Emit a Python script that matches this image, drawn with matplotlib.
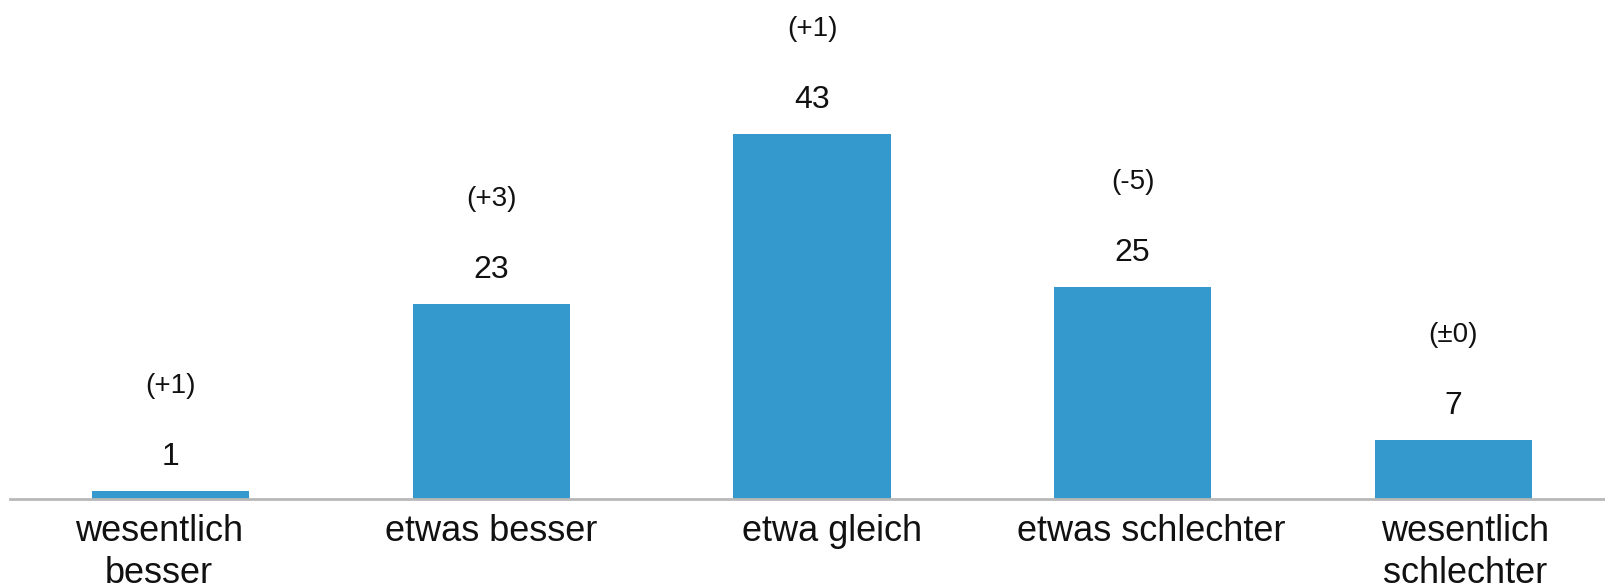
import matplotlib.pyplot as plt
import numpy as np

# chart data
categories = ["wesentlich\nbesser", "etwas besser", "etwa gleich",
              "etwas schlechter", "wesentlich\nschlechter"]
values = [1, 23, 43, 25, 7]
changes = ["(+1)", "(+3)", "(+1)", "(-5)", "(\u00b10)"]

bar_color = "#3499cc"
axis_color = "#b8b8b8"
# the category labels in the original sit slightly off the bar centres
label_shift = np.array([-0.037, 0.0, 0.062, 0.059, 0.037])

plt.rcParams["font.family"] = ["Liberation Sans", "DejaVu Sans"]

fig = plt.figure(figsize=(16.06, 5.88), dpi=100)
ax = fig.add_axes([10 / 1606, 89 / 588, 1 - 10 / 1606, 467.5 / 588])

x = np.arange(len(categories))
bars = ax.bar(x, values, width=0.49, color=bar_color, zorder=2)

# value and change labels above each bar
for bar, val, chg in zip(bars, values, changes):
    cx = bar.get_x() + bar.get_width() / 2
    top = bar.get_height()
    ax.annotate(str(val), (cx, top), xytext=(0, 24), textcoords="offset points",
                ha="center", va="center", fontsize=23, color="#111111")
    ax.annotate(chg, (cx, top), xytext=(0, 75), textcoords="offset points",
                ha="center", va="center", fontsize=20, color="#111111")

ax.set_xlim(-0.502, 4.477)
ax.set_ylim(0, 55)

ax.set_xticks(x + label_shift)
ax.set_xticklabels(categories, fontsize=26, linespacing=1.25, color="#111111")
ax.tick_params(axis="x", length=0, pad=11)
ax.set_yticks([])

for side in ["top", "right", "left"]:
    ax.spines[side].set_visible(False)
ax.spines["bottom"].set_color(axis_color)
ax.spines["bottom"].set_linewidth(2)

fig.savefig("out.png", dpi=100)
